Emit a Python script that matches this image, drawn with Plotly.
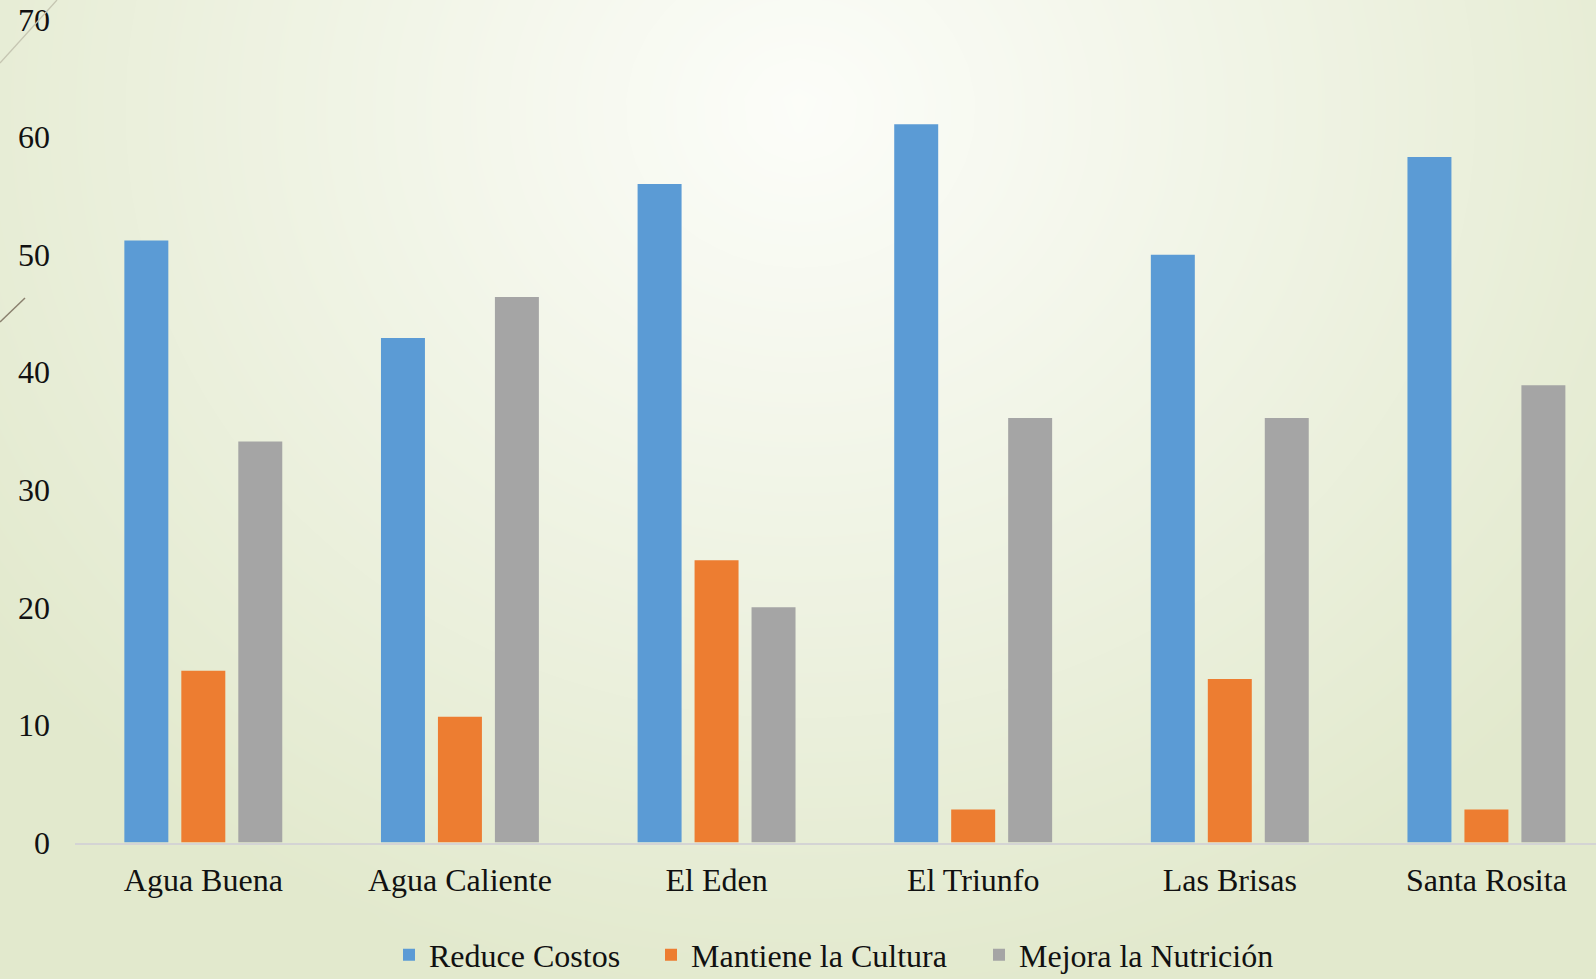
import numpy as np
import plotly.graph_objects as go

categories = ["Agua Buena", "Agua Caliente", "El Eden", "El Triunfo", "Las Brisas", "Santa Rosita"]
reduce_costos = [51.2, 42.9, 56.0, 61.1, 50.0, 58.3]
mantiene_cultura = [14.6, 10.7, 24.0, 2.8, 13.9, 2.8]
mejora_nutricion = [34.1, 46.4, 20.0, 36.1, 36.1, 38.9]
series_names = ["Reduce Costos", "Mantiene la Cultura", "Mejora la Nutrición"]
y_ticks = [0, 10, 20, 30, 40, 50, 60, 70]

W, H = 1596, 979
FONT = "Liberation Serif, Times New Roman, serif"
colors = ["#5B9BD5", "#ED7D31", "#A5A5A5"]
legend_ids = ["legend", "legend2", "legend3"]
legend_x_px = [389, 651, 979]

fig = go.Figure()

# soft radial background (decoration, full page)
gx = np.linspace(0, W, 49)
gy = np.linspace(0, H, 31)
GX, GY = np.meshgrid(gx, gy)
d = np.sqrt(((GX - 800) / 1000.0) ** 2 + ((GY - 110) / 900.0) ** 2)
d = np.clip(d, 0, 1)
fig.add_trace(go.Heatmap(x=gx, y=gy, z=d, zmin=0, zmax=1, zsmooth="best",
                         colorscale=[[0, "#fcfdf9"], [0.35, "#f3f6ea"], [1, "#e2e9cd"]],
                         showscale=False, hoverinfo="skip", xaxis="x", yaxis="y",
                         showlegend=False))

for name, vals, col, lg in zip(series_names, [reduce_costos, mantiene_cultura, mejora_nutricion],
                               colors, legend_ids):
    fig.add_trace(go.Bar(x=categories, y=vals, name=name, marker=dict(color=col, line=dict(width=0)),
                         xaxis="x2", yaxis="y2", legend=lg, showlegend=True))

legend_common = dict(orientation="h", xanchor="left", y=1 - 955 / H, yanchor="middle",
                     bgcolor="rgba(0,0,0,0)", borderwidth=0, visible=True,
                     font=dict(size=32, family=FONT, color="#111111"))

fig.update_layout(
    width=W, height=H,
    showlegend=True,
    margin=dict(l=0, r=0, t=0, b=0, autoexpand=False),
    paper_bgcolor="#eef2e2",
    plot_bgcolor="rgba(0,0,0,0)",
    barmode="group",
    bargap=0.334,
    bargroupgap=0.228,
    font=dict(family=FONT, size=32, color="#111111"),
    xaxis=dict(domain=[0, 1], range=[0, W], visible=False, fixedrange=True),
    yaxis=dict(domain=[0, 1], range=[H, 0], visible=False, fixedrange=True),
    xaxis2=dict(domain=[75 / W, 1], range=[-0.5, 5.427], anchor="y2",
                showline=True, linecolor="#d4d4d4", linewidth=2, showgrid=False,
                ticks="", tickfont=dict(size=32, family=FONT, color="#111111"),
                ticklabelstandoff=8),
    yaxis2=dict(domain=[1 - 842.5 / H, 1 - 19.5 / H], range=[0, 70], anchor="x2",
                tickvals=y_ticks, showgrid=False, zeroline=False, showline=False,
                ticks="", tickfont=dict(size=32, family=FONT, color="#111111"),
                ticklabelstandoff=24),
    legend=dict(x=legend_x_px[0] / W, **legend_common),
    legend2=dict(x=legend_x_px[1] / W, **legend_common),
    legend3=dict(x=legend_x_px[2] / W, **legend_common),
    shapes=[
        dict(type="line", xref="paper", yref="paper", x0=0, y0=1 - 63 / H, x1=57 / W, y1=1,
             line=dict(color="#c6c6b2", width=1.3), layer="above"),
        dict(type="line", xref="paper", yref="paper", x0=0, y0=1 - 322 / H, x1=25 / W, y1=1 - 298 / H,
             line=dict(color="#8a806e", width=1.5), layer="above"),
    ],
)

fig.write_html("out.html", config={"displayModeBar": False},
               post_script="document.body.style.margin='0';document.body.style.overflow='hidden';")
